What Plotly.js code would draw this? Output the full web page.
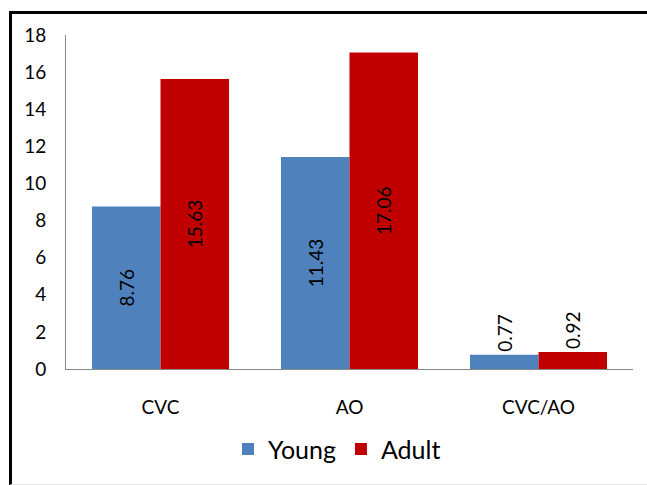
<!DOCTYPE html>
<html>
<head>
<meta charset="utf-8">
<script src="https://cdn.plot.ly/plotly-3.0.1.min.js"></script>
<style>
  html, body { margin: 0; padding: 0; background: #fff; }
  #chart { position: absolute; left: 0; top: 0; width: 647px; height: 485px; }
  #frame { position: absolute; left: 9px; top: 11px; width: 700px; height: 470px;
           border-left: 3px solid #000; border-top: 3px solid #000;
           border-bottom: 1px solid #e6e6e6; pointer-events: none; }
</style>
</head>
<body>
<div id="chart"></div>
<div id="frame"></div>
<script>
const categories = ["CVC", "AO", "CVC/AO"];
const youngValues = [8.76, 11.43, 0.77];
const adultValues = [15.63, 17.06, 0.92];
const yTicks = [0, 2, 4, 6, 8, 10, 12, 14, 16, 18];

const labelFont = { family: "Lato, 'Open Sans', sans-serif", size: 19, color: "#000" };
const pos = v => v.map(x => x < 3 ? "outside" : "inside");

const traces = [
  {
    type: "bar", name: "Young", x: categories, y: youngValues,
    marker: { color: "#4F81BD" },
    text: youngValues.map(v => v.toFixed(2)),
    textposition: pos(youngValues), textangle: -90,
    insidetextanchor: "middle",
    textfont: labelFont, insidetextfont: labelFont, outsidetextfont: labelFont,
    cliponaxis: false, hoverinfo: "none"
  },
  {
    type: "bar", name: "Adult", x: categories, y: adultValues,
    marker: { color: "#C00000" },
    text: adultValues.map(v => v.toFixed(2)),
    textposition: pos(adultValues), textangle: -90,
    insidetextanchor: "middle",
    textfont: labelFont, insidetextfont: labelFont, outsidetextfont: labelFont,
    cliponaxis: false, hoverinfo: "none"
  }
];

const layout = {
  width: 647, height: 485,
  margin: { l: 66, r: 14, t: 35, b: 116 },
  paper_bgcolor: "#fff", plot_bgcolor: "#fff",
  barmode: "group", bargap: 0.275, bargroupgap: 0,
  font: { family: "Lato, 'Open Sans', sans-serif", color: "#000" },
  showlegend: true,
  legend: {
    orientation: "h", x: 0.478, xanchor: "center", y: -0.24, yanchor: "middle",
    font: { size: 25, color: "#000" }, itemwidth: 30, traceorder: "normal"
  },
  xaxis: {
    showline: true, linecolor: "#888", linewidth: 1,
    ticks: "", tickfont: { size: 19, color: "#000" },
    ticklabelstandoff: 21, showgrid: false, zeroline: false
  },
  yaxis: {
    range: [0, 18], tickvals: yTicks, ticktext: yTicks.map(String),
    showline: true, linecolor: "#888", linewidth: 1,
    ticks: "", tickfont: { size: 19, color: "#000" },
    ticklabelstandoff: 15, showgrid: false, zeroline: false
  }
};

Plotly.newPlot("chart", traces, layout, { staticPlot: true, displayModeBar: false });
</script>
</body>
</html>
